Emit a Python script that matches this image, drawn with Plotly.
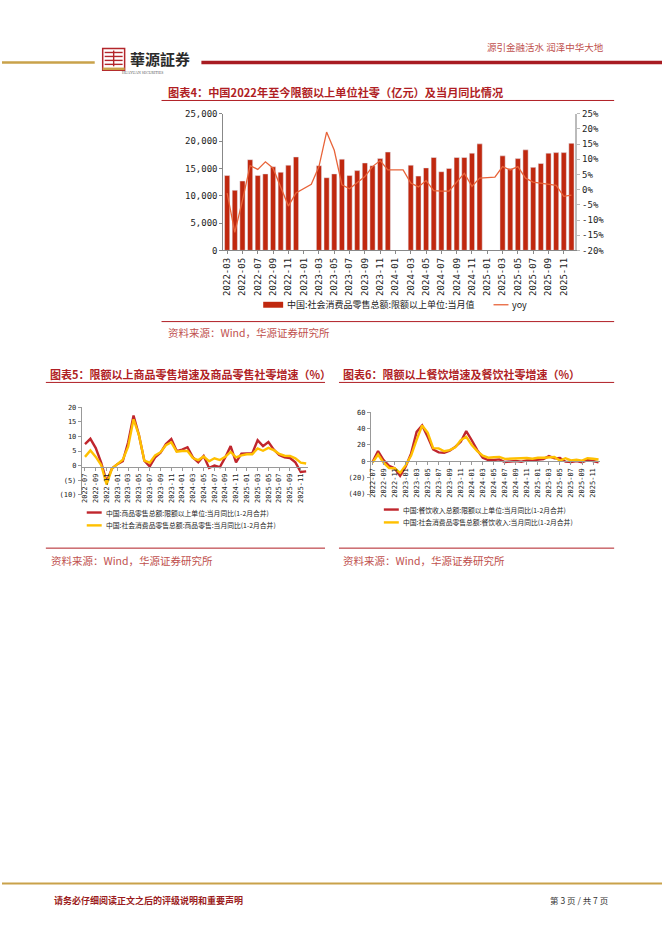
import plotly.graph_objects as go

W, H = 662, 936
def px(x): return x / W
def py(y): return 1 - y / H

# ---------------- data ----------------
months_main = [f"{y}-{m:02d}" for y in range(2022, 2026) for m in range(1, 13)][2:]  # 2022-03 .. 2025-12
retail_value = [13700, 11000, 12700, 16600, 13700, 14000, 15300, 14300, 15600, 17100, None, None,
                15500, 13300, 14000, 16700, 13700, 14600, 16000, 15500, 16800, 18000, None, None,
                15600, 13600, 15100, 17000, 14400, 15000, 17000, 17000, 17800, 19500, None, None,
                17300, 15000, 16800, 18400, 15200, 15900, 17800, 17900, 17900, 19600]
retail_yoy = [-1.1, -14.1, -3.5, 7.9, 6.7, 9.2, 7.1, 1.0, -5.4, -1.1, 0.3, 1.8,
              7.6, 19.0, 13.0, 1.6, 0.3, 2.2, 4.3, 7.6, 9.6, 6.5, 6.5, 6.5,
              2.2, 0.9, 3.0, -0.3, -0.5, -0.5, 2.5, 5.4, 1.1, 3.8, 4.0, 4.1,
              7.6, 6.5, 7.6, 3.8, 2.5, 2.2, 1.8, 1.4, -2.2, -1.8]
main_ticks = months_main[::2]

months_small = [f"{y}-{m:02d}" for y in range(2022, 2026) for m in range(1, 13)][6:]  # 2022-07 .. 2025-12
small_ticks = months_small[::2]
goods_above = [7.4, 9.2, 6.0, 1.0, -5.5, -1.0, 0.5, 1.5, 8.0, 17.2,
               10.5, 1.7, -0.3, 2.8, 4.4, 7.4, 9.1, 5.0, 5.5, 6.3,
               2.8, 1.1, 3.3, -0.8, 0.0, -0.5, 2.8, 6.7, 1.1, 4.1,
               4.2, 4.2, 8.7, 6.7, 8.1, 5.5, 3.6, 2.8, 2.6, 1.1, -2.2, -2.0]
goods_total = [3.0, 5.2, 3.0, 0.2, -6.5, -1.0, 0.5, 2.0, 6.5, 15.9,
               10.5, 1.7, 1.0, 3.5, 4.6, 7.0, 8.0, 4.8, 5.0, 5.0,
               2.6, 1.9, 3.1, 1.5, 2.5, 1.9, 3.0, 4.7, 2.8, 3.5,
               3.9, 3.9, 5.9, 5.1, 6.1, 5.3, 4.0, 3.4, 3.3, 2.5, 1.0, 0.7]
catering_above = [-1.0, 12.5, 1.6, -5.6, -8.5, -17.7, -6.5, 9.7, 36.0, 44.0,
                  30.0, 14.5, 11.0, 10.5, 13.0, 17.7, 23.8, 37.0, 25.8, 13.7,
                  4.4, 1.6, 1.6, 2.4, -0.8, 0.0, 0.4, -0.4, 1.2, 1.2,
                  1.6, 2.8, 6.4, 3.6, 4.0, -0.4, -0.8, 0.4, -1.2, 1.6, 0.4, -1.2]
catering_total = [-1.5, 8.4, -1.7, -8.1, -8.4, -14.1, -5.0, 7.0, 26.3, 43.8,
                  35.1, 16.1, 15.8, 12.4, 13.8, 17.1, 25.8, 30.0, 20.0, 12.5,
                  6.9, 4.4, 5.0, 5.4, 3.0, 3.3, 3.1, 3.2, 4.0, 3.1,
                  4.3, 4.3, 4.7, 5.2, 0.9, 3.8, 1.1, 2.1, 0.9, 3.8, 3.2, 2.2]

main_left_ticks = [0, 5000, 10000, 15000, 20000, 25000]
main_right_ticks = [-20, -15, -10, -5, 0, 5, 10, 15, 20, 25]
main_right_text = ["-20%", "-15%", "-10%", "-5%", "0%", "5%", "10%", "15%", "20%", "25%"]
c5_ticks = [-10, -5, 0, 5, 10, 15, 20]
c5_text = ["(10)", "(5)", "0", "5", "10", "15", "20"]
c6_ticks = [-40, -20, 0, 20, 40, 60]
c6_text = ["(40)", "(20)", "0", "20", "40", "60"]

# ---------------- styles ----------------
BAR = "#C0280F"
LINE = "#E8643A"
RED = "#C0262D"
YEL = "#FFC000"
DRED = "#B01E24"
SRC = "#C0504D"
GOLD = "#C9A24A"
MONO = "DejaVu Sans Mono"
CJK = "Noto Sans CJK SC"

fig = go.Figure()

fig.add_trace(go.Bar(x=months_main, y=retail_value, marker_color=BAR, xaxis="x", yaxis="y",
                     name="中国:社会消费品零售总额:限额以上单位:当月值", showlegend=False))
fig.add_trace(go.Scatter(x=months_main, y=retail_yoy, mode="lines", line=dict(color=LINE, width=1.3),
                         xaxis="x", yaxis="y4", name="yoy", showlegend=False))

fig.add_trace(go.Scatter(x=months_small, y=goods_above, mode="lines", line=dict(color=RED, width=2.4),
                         xaxis="x2", yaxis="y2", showlegend=False))
fig.add_trace(go.Scatter(x=months_small, y=goods_total, mode="lines", line=dict(color=YEL, width=2.4),
                         xaxis="x2", yaxis="y2", showlegend=False))
fig.add_trace(go.Scatter(x=months_small, y=catering_above, mode="lines", line=dict(color=RED, width=2.4),
                         xaxis="x3", yaxis="y3", showlegend=False))
fig.add_trace(go.Scatter(x=months_small, y=catering_total, mode="lines", line=dict(color=YEL, width=2.4),
                         xaxis="x3", yaxis="y3", showlegend=False))

tickfont_main = dict(family=MONO, size=9, color="#222")
tickfont_small = dict(family=MONO, size=7, color="#222")

fig.update_layout(
    width=W, height=H, autosize=False, margin=dict(l=0, r=0, t=0, b=0),
    paper_bgcolor="white", plot_bgcolor="rgba(0,0,0,0)", bargap=0.32,
    xaxis=dict(domain=[px(222), px(575)], anchor="y", type="category", range=[-0.5, 45.5],
               tickmode="array", tickvals=main_ticks, ticktext=main_ticks, tickangle=-90,
               tickfont=tickfont_main, showline=True, linecolor="#888", linewidth=1,
               ticks="outside", ticklen=3, tickcolor="#888", showgrid=False),
    yaxis=dict(domain=[py(248), py(110)], anchor="x", range=[0, 25000],
               tickmode="array", tickvals=main_left_ticks, tickformat=",",
               tickfont=tickfont_main, showline=True, linecolor="#888", linewidth=1,
               ticks="outside", ticklen=3, tickcolor="#888", showgrid=False, zeroline=False),
    yaxis4=dict(overlaying="y", side="right", anchor="x", range=[-20, 25],
                tickmode="array", tickvals=main_right_ticks, ticktext=main_right_text,
                tickfont=tickfont_main, showline=True, linecolor="#BBB", linewidth=2,
                ticks="outside", ticklen=3, tickcolor="#BBB", showgrid=False, zeroline=False),
    xaxis2=dict(domain=[px(80), px(306.7)], anchor="free", position=py(466.7), type="category",
                range=[-0.6, 41.3], tickmode="array", tickvals=small_ticks, ticktext=small_ticks,
                tickangle=-90, tickfont=tickfont_small, showline=True, linecolor="#999", linewidth=1,
                ticks="outside", ticklen=3, tickcolor="#999", showgrid=False),
    yaxis2=dict(domain=[py(495), py(406.7)], anchor="x2", range=[-10, 20], tickmode="array",
                tickvals=c5_ticks, ticktext=c5_text, tickfont=tickfont_small, showline=True,
                linecolor="#999", linewidth=1, ticks="outside", ticklen=3, tickcolor="#999",
                showgrid=False, zeroline=False),
    xaxis3=dict(domain=[px(370), px(600)], anchor="free", position=py(461.3), type="category",
                range=[-0.3, 41.3], tickmode="array", tickvals=small_ticks, ticktext=small_ticks,
                tickangle=-90, tickfont=tickfont_small, showline=True, linecolor="#999", linewidth=1,
                ticks="outside", ticklen=3, tickcolor="#999", showgrid=False),
    yaxis3=dict(domain=[py(494.3), py(411.7)], anchor="x3", range=[-40, 60], tickmode="array",
                tickvals=c6_ticks, ticktext=c6_text, tickfont=tickfont_small, showline=True,
                linecolor="#999", linewidth=1, ticks="outside", ticklen=3, tickcolor="#999",
                showgrid=False, zeroline=False),
)

shapes = []
annotations = []

def hline(x0, x1, y, color, width):
    shapes.append(dict(type="line", xref="paper", yref="paper", x0=px(x0), x1=px(x1),
                       y0=py(y), y1=py(y), line=dict(color=color, width=width)))

def text(x, y, s, size, color, xanchor="left", family=CJK):
    annotations.append(dict(xref="paper", yref="paper", x=px(x), y=py(y), text=s, showarrow=False,
                            xanchor=xanchor, yanchor="middle", font=dict(family=family, size=size, color=color)))

# header
hline(0, 93, 58, GOLD, 2.5)
hline(200, 662, 58, "#A81C22", 3.5)
shapes.append(dict(type="rect", xref="paper", yref="paper", x0=px(101), x1=px(123), y0=py(66), y1=py(44),
                   line=dict(color="#B3262B", width=1.5), fillcolor="white"))
for yy in (48, 52, 56, 60):
    hline(103, 121, yy, "#B3262B", 1.4)
shapes.append(dict(type="line", xref="paper", yref="paper", x0=px(112), x1=px(112), y0=py(46), y1=py(62),
                   line=dict(color="#B3262B", width=1.4)))
hline(101, 123, 64.5, GOLD, 2.5)
text(126, 54, "<b>華源証券</b>", 15, "#2A2A2A", family="Noto Sans CJK TC")
text(141, 69, "HUAYUAN SECURITIES", 3.8, "#555", xanchor="center", family="Liberation Serif")
text(606, 42, "源引金融活水 润泽中华大地", 9.5, SRC, xanchor="right")

SOURCE = "资料来源：Wind，华源证券研究所"

# main chart
text(164, 88, "<b>图表4：中国2022年至今限额以上单位社零（亿元）及当月同比情况</b>", 11.2, DRED)
hline(160, 614, 96.5, DRED, 1)
shapes.append(dict(type="rect", xref="paper", yref="paper", x0=px(262), x1=px(282), y0=py(306), y1=py(300),
                   line=dict(width=0), fillcolor=BAR))
text(284, 303, "中国:社会消费品零售总额:限额以上单位:当月值", 9, "#222")
hline(493, 508, 303, LINE, 1.3)
text(510, 303, "yoy", 9, "#222")
hline(160, 614, 320, DRED, 1)
text(164, 331, SOURCE, 10.5, SRC)

# chart 5
text(46, 373, "<b>图表5：限额以上商品零售增速及商品零售社零增速（%）</b>", 11, DRED)
hline(44, 324, 381.5, DRED, 1)
hline(85, 100, 513, RED, 2.4)
text(102, 513, "中国:商品零售总额:限额以上单位:当月同比(1-2月合并)", 6.8, "#222")
hline(85, 100, 526, YEL, 2.4)
text(102, 526, "中国:社会消费品零售总额:商品零售:当月同比(1-2月合并)", 6.8, "#222")
hline(44, 324, 549, DRED, 1)
text(47, 561, SOURCE, 10.5, SRC)

# chart 6
text(340, 373, "<b>图表6：限额以上餐饮增速及餐饮社零增速（%）</b>", 11, DRED)
hline(338, 614, 381.5, DRED, 1)
hline(383, 398, 510, RED, 2.4)
text(400, 510, "中国:餐饮收入总额:限额以上单位:当月同比(1-2月合并)", 6.8, "#222")
hline(383, 398, 523, YEL, 2.4)
text(400, 523, "中国:社会消费品零售总额:餐饮收入:当月同比(1-2月合并)", 6.8, "#222")
hline(338, 614, 549, DRED, 1)
text(340, 561, SOURCE, 10.5, SRC)

# footer
hline(0, 662, 888, GOLD, 2)
text(50, 905, "<b>请务必仔细阅读正文之后的评级说明和重要声明</b>", 9, "#9B1C20")
text(610, 905, "第 3 页 / 共 7 页", 8.5, "#333", xanchor="right")

fig.update_layout(shapes=shapes, annotations=annotations)

fig.write_html("out.html", config={"displayModeBar": False},
               post_script="document.body.style.margin='0';")
